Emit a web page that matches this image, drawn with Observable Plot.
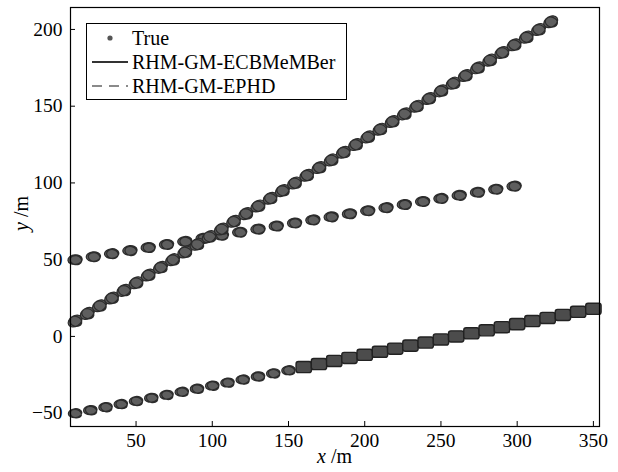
<!DOCTYPE html>
<html><head><meta charset="utf-8">
<script src="https://cdn.jsdelivr.net/npm/d3@7"></script>
<script src="https://cdn.jsdelivr.net/npm/@observablehq/plot@0.6"></script>
<style>
html,body{margin:0;padding:0;background:#fff;}
#wrap{position:relative;width:618px;height:472px;font-family:"Liberation Serif","Times New Roman",serif;}
#legend{position:absolute;left:86px;top:23px;width:259px;height:75px;border:1px solid #000;background:#fff;font-size:20px;color:#000;}
#legend .row{position:absolute;left:0;height:24px;line-height:24px;white-space:nowrap;}
#legend .row svg{position:absolute;left:4px;top:0;}
#legend .row span{position:absolute;left:45px;top:0;}
</style>
</head><body>
<div id="wrap"></div>
<script>
// ---- data ----
const trackA_x = [10,18,26,34,42,50,58,66,74,82,90,98,106,114,122,130,138,146,154,162,170,178,186,194,202,210,218,226,234,242,250,258,266,274,282,290,298,306,314,322];
const trackA_y = [10,15,20,25,30,35,40,45,50,55,60,65,70,75,80,85,90,95,100,105,110,115,120,125,130,135,140,145,150,155,160,165,170,175,180,185,190,195,200,205];
const trackB_x = [10,22,34,46,58,70,82,94,106,118,130,142,154,166,178,190,202,214,226,238,250,262,274,286,298];
const trackB_y = [50,52,54,56,58,60,62,64,66,68,70,72,74,76,78,80,82,84,86,88,90,92,94,96,98];
const trackC_x = [10,20,30,40,50,60,70,80,90,100,110,120,130,140,150,160,170,180,190,200,210,220,230,240,250,260,270,280,290,300,310,320,330,340,350];
const trackC_y = [-50,-48,-46,-44,-42,-40,-38,-36,-34,-32,-30,-28,-26,-24,-22,-20,-18,-16,-14,-12,-10,-8,-6,-4,-2,0,2,4,6,8,10,12,14,16,18];
const xTicks = [50,100,150,200,250,300,350];
const yTicks = [-50,0,50,100,150,200];
const legendLabels = ["True","RHM-GM-ECBMeMBer","RHM-GM-EPHD"];

// ---- build tables ----
const A = trackA_x.map((x,i)=>({x, y: trackA_y[i]}));
const B = trackB_x.map((x,i)=>({x, y: trackB_y[i]}));
const C1 = trackC_x.map((x,i)=>({x, y: trackC_y[i]})).filter(d=>d.x < 155);
const C2 = trackC_x.map((x,i)=>({x, y: trackC_y[i]})).filter(d=>d.x >= 155);

function ellipsePath(ctx, rx, ry, rot, ox, oy){
  const k = 0.5523, c = Math.cos(rot), s = Math.sin(rot);
  const P = (u,v)=>[ox + u*c - v*s, oy + u*s + v*c];
  ctx.moveTo(...P(rx,0));
  ctx.bezierCurveTo(...P(rx,ry*k),...P(rx*k,ry),...P(0,ry));
  ctx.bezierCurveTo(...P(-rx*k,ry),...P(-rx,ry*k),...P(-rx,0));
  ctx.bezierCurveTo(...P(-rx,-ry*k),...P(-rx*k,-ry),...P(0,-ry));
  ctx.bezierCurveTo(...P(rx*k,-ry),...P(rx,-ry*k),...P(rx,0));
  ctx.closePath();
}
// each extent glyph: true extent ellipse with overlapping estimated extents
function blobSymbol(parts){
  return {draw(ctx, size){
    const r = Math.sqrt(size/Math.PI);
    parts.forEach(([ax, ay, rot, ox, oy]) => ellipsePath(ctx, r*ax, r*ay, rot, r*ox, r*oy));
  }};
}
const rectSymbol = {draw(ctx, size){
  const r = Math.sqrt(size/Math.PI), w = r*1.45, h = r*1.05, q = r*0.45;
  ctx.moveTo(-w+q,-h); ctx.lineTo(w-q,-h); ctx.quadraticCurveTo(w,-h,w,-h+q);
  ctx.lineTo(w,h-q); ctx.quadraticCurveTo(w,h,w-q,h); ctx.lineTo(-w+q,h);
  ctx.quadraticCurveTo(-w,h,-w,h-q); ctx.lineTo(-w,-h+q); ctx.quadraticCurveTo(-w,-h,-w+q,-h);
  ctx.closePath();
}};

const W = 618, H = 472, mL = 70, mR = 19, mT = 7, mB = 46;
const fill = "#5e5e5e", stroke = "#2c2c2c";

const chart = Plot.plot({
  width: W, height: H,
  marginLeft: mL, marginRight: mR, marginTop: mT, marginBottom: mB,
  style: {fontFamily: "'Liberation Serif','Times New Roman',serif", fontSize: "19.5px", color: "#000", background: "#fff"},
  x: {domain: [7, 354]},
  y: {domain: [-58.7, 214.3]},
  marks: [
    Plot.axisX(xTicks, {tickSize: 0, tickPadding: 7, label: null, fontSize: 19.5}),
    Plot.axisY(yTicks, {tickSize: 0, tickPadding: 8, label: null, fontSize: 19.5, tickFormat: d => d < 0 ? "\u2212" + Math.abs(d) : String(d)}),
    Plot.ruleX(xTicks, {x: d=>d, insetTop: H - mT - mB - 5, stroke: "#000", strokeWidth: 1}),
    Plot.ruleY(yTicks, {y: d=>d, insetRight: W - mL - mR - 5, stroke: "#000", strokeWidth: 1}),
    Plot.dot(C1, {x: "x", y: "y", r: 5.2, symbol: blobSymbol([[1.3, 0.85, -0.12, 0, 0], [1.1, 0.8, 0.25, 0.15, 0.1]]), fill, stroke, strokeWidth: 1.2}),
    Plot.dot(C2, {x: "x", y: "y", r: 5.3, symbol: rectSymbol, fill: "#4c4c4c", stroke: "#222", strokeWidth: 1.4}),
    Plot.dot(B, {x: "x", y: "y", r: 5.3, symbol: blobSymbol([[1.35, 0.9, -0.1, 0, 0], [1.1, 0.85, 0.2, 0.15, 0.1]]), fill, stroke, strokeWidth: 1.2}),
    Plot.dot(A, {x: "x", y: "y", r: 6.2, symbol: blobSymbol([[1.2, 0.85, -0.55, 0, 0], [1.0, 0.8, 0.3, 0.1, 0.05]]), fill, stroke, strokeWidth: 1.2}),
    Plot.frame({stroke: "#000", strokeWidth: 1.2})
  ]
});

const wrap = document.getElementById("wrap");
wrap.appendChild(chart);

// axis titles with italic variable
const svg = d3.select(chart);
const fx = (mL + W - mR)/2;
const tx = svg.append("text").attr("x", fx).attr("y", 463).attr("text-anchor","middle")
  .attr("font-size", 20).attr("fill","#000");
tx.append("tspan").attr("font-style","italic").text("x");
tx.append("tspan").text(" /m");
const ty = svg.append("text").attr("transform", `translate(21,${(mT + H - mB)/2 - 3}) rotate(-90)`)
  .attr("text-anchor","middle").attr("dy","0.35em").attr("font-size", 20).attr("fill","#000");
ty.append("tspan").attr("font-style","italic").text("y");
ty.append("tspan").text(" /m");

// legend
const lg = document.createElement("div");
lg.id = "legend";
const rowsSvg = [
  `<svg width="40" height="24"><circle cx="19" cy="12" r="2.6" fill="#555"/></svg>`,
  `<svg width="40" height="24"><line x1="1" x2="37" y1="12" y2="12" stroke="#333" stroke-width="2"/></svg>`,
  `<svg width="40" height="24"><line x1="1" x2="37" y1="12" y2="12" stroke="#8a8a8a" stroke-width="2.2" stroke-dasharray="10,7"/></svg>`
];
legendLabels.forEach((lab,i)=>{
  const r = document.createElement("div");
  r.className = "row";
  r.style.top = (2 + i*24) + "px";
  r.innerHTML = rowsSvg[i] + `<span>${lab}</span>`;
  lg.appendChild(r);
});
wrap.appendChild(lg);
</script>
</body></html>
